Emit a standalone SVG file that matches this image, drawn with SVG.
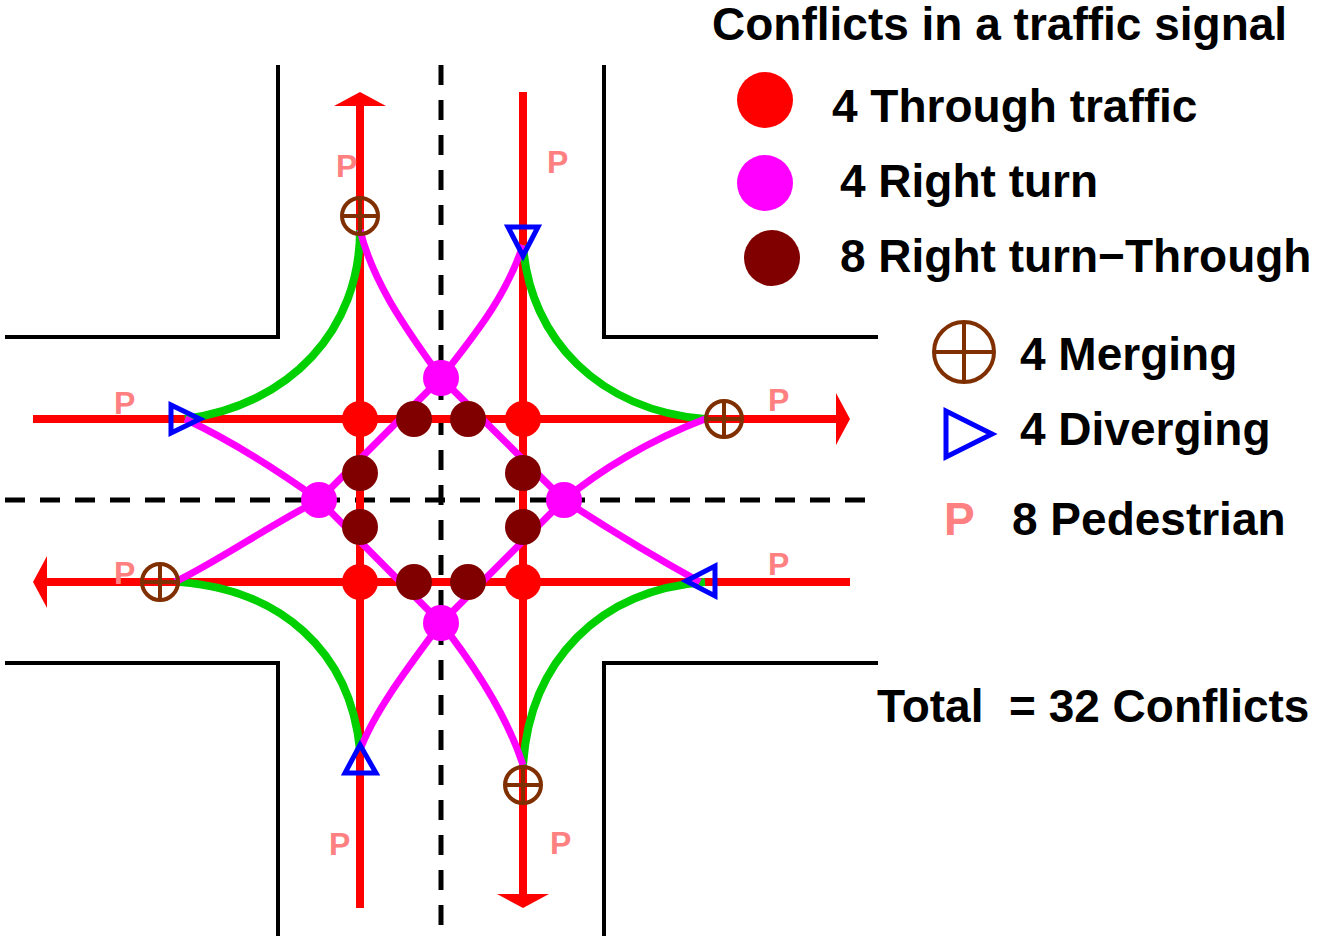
<svg xmlns="http://www.w3.org/2000/svg" width="1335" height="942" viewBox="0 0 1335 942">
<style>
text{font-family:"Liberation Sans",Arial,sans-serif;font-weight:bold}
.t{font-size:46px;fill:#000}
.p{font-size:32px;fill:#ff8080}
.w{fill:none;stroke:#000;stroke-width:4}
.d{fill:none;stroke:#000;stroke-width:5;stroke-dasharray:20 15}
.r{fill:none;stroke:#f00;stroke-width:8}
.g{fill:none;stroke:#00d000;stroke-width:8}
.m{fill:none;stroke:#f0f;stroke-width:7}
.a{fill:#f00;stroke:none}
.tc{fill:#f00}.rc{fill:#f0f}.br{fill:#800000}
.mg{fill:none;stroke:#803000;stroke-width:4}
.dv{fill:none;stroke:#00f;stroke-width:5}
</style>
<g id="roads">
<path class="w" d="M278 65V337H5M604 65V337H878M5 663H278V936M878 663H604V936"/>
<path class="d" d="M441 65V936M5 500H878"/>
</g>
<g id="connectors">
<path class="r" d="M360 908V100M523 92V900M33 419H842M850 582H40"/>
<path class="a" d="M334 106L360 92L386 106ZM497 894L523 908L549 894ZM836 393L850 419L836 445ZM47 556L33 582L47 608Z"/>
<path class="g" d="M360 230C360 330 290 405 185 419M523 245C530 340 600 410 705 419M705 582C600 590 530 660 523 765M180 582C280 590 350 650 360 750"/>
<path class="m" d="M360 230C375 290 415 340 441 378C470 340 505 300 523 245M705 419C650 440 600 470 564 500C610 530 660 560 700 582M523 765C505 710 470 660 441 623C410 665 375 710 360 750M175 582C220 560 270 525 319 500C270 465 230 440 185 419"/>
<path class="m" d="M319 500L441 378L564 500L441 623Z"/>
</g>
<g id="through"><circle class="tc" cx="360" cy="419" r="18"/><circle class="tc" cx="523" cy="419" r="18"/><circle class="tc" cx="360" cy="582" r="18"/><circle class="tc" cx="523" cy="582" r="18"/></g>
<g id="right-turn"><circle class="rc" cx="441" cy="378" r="18"/><circle class="rc" cx="319" cy="500" r="18"/><circle class="rc" cx="564" cy="500" r="18"/><circle class="rc" cx="441" cy="623" r="18"/></g>
<g id="right-through"><circle class="br" cx="414" cy="419" r="18"/><circle class="br" cx="468" cy="419" r="18"/><circle class="br" cx="360" cy="473" r="18"/><circle class="br" cx="523" cy="473" r="18"/><circle class="br" cx="360" cy="527" r="18"/><circle class="br" cx="523" cy="527" r="18"/><circle class="br" cx="414" cy="582" r="18"/><circle class="br" cx="468" cy="582" r="18"/></g>
<g id="merging"><g class="mg"><circle cx="360" cy="216" r="18"/><path d="M342 216H378M360 198V234"/><circle cx="724" cy="419" r="18"/><path d="M706 419H742M724 401V437"/><circle cx="160" cy="582" r="18"/><path d="M142 582H178M160 564V600"/><circle cx="523" cy="785" r="18"/><path d="M505 785H541M523 767V803"/></g></g>
<g id="diverging"><path class="dv" d="M508 227H538L523 256ZM171 405V433L200 419ZM715 566V596L686 581ZM345 773H376L360 745Z"/></g>
<g id="pedestrian"><text class="p" x="336" y="177">P</text><text class="p" x="547" y="173">P</text><text class="p" x="114" y="414">P</text><text class="p" x="768" y="411">P</text><text class="p" x="114" y="584">P</text><text class="p" x="768" y="575">P</text><text class="p" x="329" y="855">P</text><text class="p" x="550" y="854">P</text></g>
<g id="legend">
<text class="t" x="712" y="40">Conflicts in a traffic signal</text>
<circle class="tc" cx="765" cy="100" r="28"/><text class="t" x="832" y="122">4 Through traffic</text>
<circle class="rc" cx="765" cy="183" r="28"/><text class="t" x="840" y="197">4 Right turn</text>
<circle class="br" cx="772" cy="258" r="28"/><text class="t" x="840" y="272">8 Right turn−Through</text>
<g class="mg"><circle cx="964" cy="352" r="30"/><path d="M934 352H994M964 322V382"/></g><text class="t" x="1020" y="370">4 Merging</text>
<path class="dv" d="M946 411V457L992 434Z"/><text class="t" x="1020" y="445">4 Diverging</text>
<text class="p" style="font-size:46px" x="944" y="535">P</text><text class="t" x="1012" y="535">8 Pedestrian</text>
<text class="t" x="877" y="722" xml:space="preserve">Total  = 32 Conflicts</text>
</g>
</svg>
